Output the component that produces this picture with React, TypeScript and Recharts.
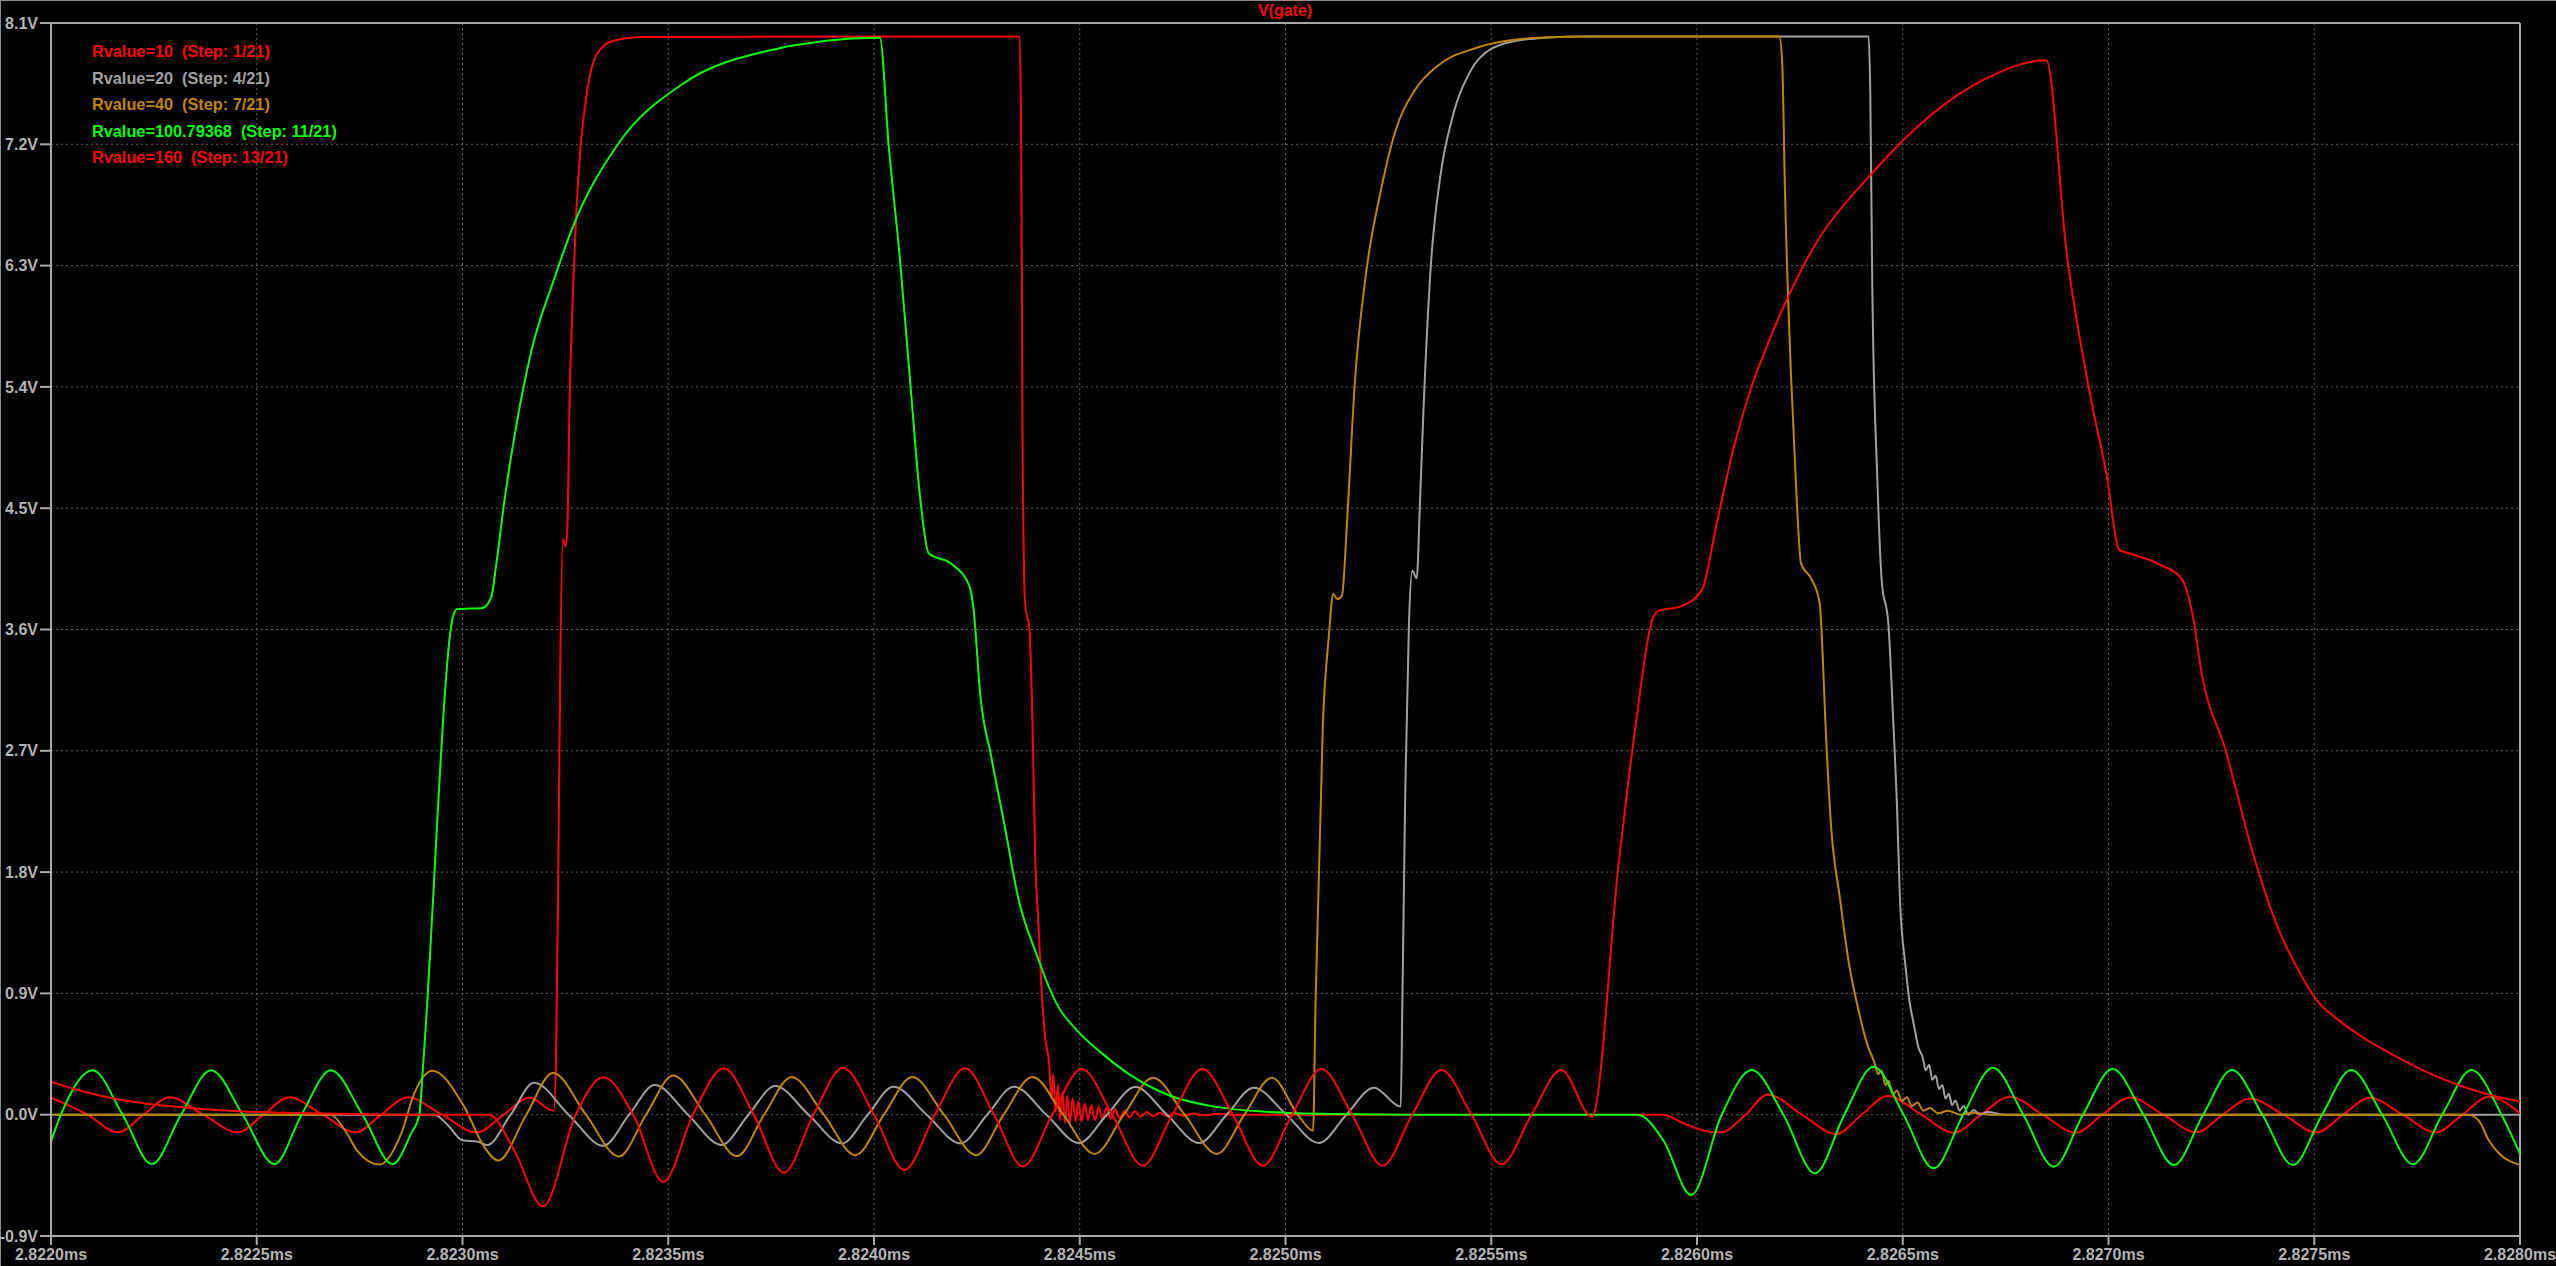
import { LineChart, Line, XAxis, YAxis, CartesianGrid, ReferenceLine } from 'recharts';

// time in microseconds (axis shows ms), voltage in volts
const timeTicks = [2822, 2822.5, 2823, 2823.5, 2824, 2824.5, 2825, 2825.5, 2826, 2826.5, 2827, 2827.5, 2828];
const voltTicks = [-0.9, 0, 0.9, 1.8, 2.7, 3.6, 4.5, 5.4, 6.3, 7.2, 8.1];

const stepLabels = [
  'Rvalue=10  (Step: 1/21)',
  'Rvalue=20  (Step: 4/21)',
  'Rvalue=40  (Step: 7/21)',
  'Rvalue=100.79368  (Step: 11/21)',
  'Rvalue=160  (Step: 13/21)',
];
const stepColors = ['#ff0000', '#a0a0a0', '#c08400', '#00ff00', '#ff0000'];

const r10 = [
  [2822.0, 0.126], [2822.089, 0], [2822.162, -0.131], [2822.225, 0], [2822.288, 0.129], [2822.37, 0],
  [2822.454, -0.131], [2822.516, 0], [2822.579, 0.129], [2822.66, 0], [2822.741, -0.131], [2822.802, 0],
  [2822.867, 0.129], [2822.95, 0], [2823.035, -0.131], [2823.1, 0], [2823.163, 0.126], [2823.222, 0.03],
  [2823.228, 0.573], [2823.233, 1.874], [2823.238, 3.436], [2823.244, 4.27], [2823.251, 4.217], [2823.255, 4.373],
  [2823.26, 5.258], [2823.269, 6.143], [2823.276, 6.663], [2823.287, 7.184], [2823.303, 7.6], [2823.325, 7.861],
  [2823.363, 7.965], [2823.439, 7.996], [2824.354, 8.0], [2824.358, 7.08], [2824.361, 5.0], [2824.367, 3.8],
  [2824.378, 3.59], [2824.385, 2.915], [2824.392, 1.874], [2824.399, 1.458], [2824.407, 0.937], [2824.416, 0.573],
  [2824.426, 0.365], [2824.431, 0.12], [2824.436, 0.3], [2824.441, 0.02], [2824.447, 0.22], [2824.452, -0.04],
  [2824.458, 0.17], [2824.464, -0.06], [2824.47, 0.14], [2824.476, -0.06], [2824.483, 0.12], [2824.49, -0.05],
  [2824.497, 0.1], [2824.504, -0.05], [2824.512, 0.08], [2824.52, -0.04], [2824.528, 0.07], [2824.537, -0.04],
  [2824.546, 0.06], [2824.555, -0.035], [2824.565, 0.05], [2824.575, -0.03], [2824.586, 0.04], [2824.597, -0.025],
  [2824.609, 0.03], [2824.621, -0.02], [2824.634, 0.025], [2824.648, -0.015], [2824.663, 0.02], [2824.678, -0.012],
  [2824.695, 0.015], [2824.712, -0.01], [2824.73, 0.012], [2824.75, -0.008], [2824.775, 0.008], [2824.8, -0.005],
  [2824.83, 0.005], [2824.87, 0], [2825.918, 0], [2825.968, -0.065], [2826.042, -0.13], [2826.059, -0.13],
  [2826.118, 0], [2826.172, 0.15], [2826.255, 0], [2826.339, -0.143], [2826.4, 0], [2826.464, 0.138],
  [2826.545, 0], [2826.625, -0.133], [2826.69, 0], [2826.76, 0.134], [2826.84, 0], [2826.921, -0.133],
  [2826.985, 0], [2827.052, 0.128], [2827.133, 0], [2827.214, -0.131], [2827.278, 0], [2827.343, 0.121],
  [2827.425, 0], [2827.506, -0.131], [2827.57, 0], [2827.635, 0.126], [2827.715, 0], [2827.796, -0.131],
  [2827.86, 0], [2827.924, 0.134], [2828.0, 0.01],
];

const r20 = [
  [2822.0, 0], [2822.932, 0], [2822.965, -0.08], [2823.0, -0.19], [2823.038, -0.2], [2823.06, -0.225],
  [2823.117, 0], [2823.174, 0.237], [2823.258, 0], [2823.342, -0.23], [2823.405, 0], [2823.467, 0.22],
  [2823.548, 0], [2823.629, -0.224], [2823.695, 0], [2823.76, 0.213], [2823.841, 0], [2823.922, -0.213],
  [2823.985, 0], [2824.047, 0.208], [2824.128, 0], [2824.21, -0.213], [2824.275, 0], [2824.34, 0.208],
  [2824.419, 0], [2824.498, -0.21], [2824.566, 0], [2824.635, 0.205], [2824.712, 0], [2824.79, -0.21],
  [2824.857, 0], [2824.923, 0.2], [2825.002, 0], [2825.081, -0.21], [2825.148, 0], [2825.215, 0.2],
  [2825.28, 0.06], [2825.284, 0.833], [2825.291, 2.395], [2825.3, 3.644], [2825.308, 4.035], [2825.319, 3.98],
  [2825.326, 4.477], [2825.335, 5.206], [2825.352, 6.247], [2825.377, 6.976], [2825.405, 7.392], [2825.447, 7.73],
  [2825.503, 7.913], [2825.587, 7.98], [2825.7, 8.0], [2826.417, 8.0], [2826.421, 7.6], [2826.426, 6.143],
  [2826.438, 4.737], [2826.449, 3.957], [2826.465, 3.644], [2826.477, 2.915], [2826.486, 2.29], [2826.493, 1.614],
  [2826.507, 1.094], [2826.516, 0.85], [2826.528, 0.653], [2826.538, 0.5], [2826.548, 0.43], [2826.556, 0.33],
  [2826.564, 0.37], [2826.572, 0.26], [2826.58, 0.29], [2826.588, 0.19], [2826.596, 0.22], [2826.604, 0.12],
  [2826.612, 0.155], [2826.62, 0.07], [2826.628, 0.105], [2826.638, 0.03], [2826.648, 0.065], [2826.66, 0.0],
  [2826.672, 0.035], [2826.689, 0.0], [2826.705, 0.02], [2826.75, 0], [2828.0, 0],
];

const r40 = [
  [2822.0, 0], [2822.68, 0], [2822.713, -0.11], [2822.745, -0.27], [2822.798, -0.37], [2822.851, -0.14],
  [2822.883, 0.16], [2822.927, 0.326], [2823.004, 0.06], [2823.053, -0.24], [2823.087, -0.34], [2823.155, 0],
  [2823.22, 0.31], [2823.3, 0], [2823.38, -0.31], [2823.446, 0], [2823.512, 0.29], [2823.59, 0],
  [2823.667, -0.307], [2823.733, 0], [2823.8, 0.28], [2823.878, 0], [2823.955, -0.3], [2824.024, 0],
  [2824.093, 0.28], [2824.17, 0], [2824.248, -0.3], [2824.315, 0], [2824.385, 0.28], [2824.46, 0],
  [2824.536, -0.291], [2824.607, 0], [2824.678, 0.275], [2824.755, 0], [2824.833, -0.291], [2824.9, 0],
  [2824.967, 0.275], [2825.03, 0], [2825.067, -0.12], [2825.073, 0.833], [2825.091, 2.915], [2825.105, 3.54],
  [2825.116, 3.863], [2825.126, 3.826], [2825.137, 3.85], [2825.151, 4.477], [2825.168, 5.41], [2825.196, 6.247],
  [2825.231, 6.846], [2825.266, 7.288], [2825.314, 7.6], [2825.37, 7.783], [2825.461, 7.913], [2825.614, 7.99],
  [2825.75, 8.0], [2826.2, 8.0], [2826.207, 7.81], [2826.214, 6.82], [2826.228, 5.52], [2826.242, 4.58],
  [2826.253, 4.087], [2826.277, 3.98], [2826.298, 3.8], [2826.305, 3.436], [2826.312, 2.915], [2826.326, 2.135],
  [2826.347, 1.614], [2826.368, 1.146], [2826.396, 0.729], [2826.414, 0.52], [2826.432, 0.38], [2826.44, 0.3],
  [2826.448, 0.33], [2826.458, 0.22], [2826.466, 0.25], [2826.476, 0.15], [2826.486, 0.18], [2826.498, 0.1],
  [2826.51, 0.13], [2826.522, 0.065], [2826.536, 0.09], [2826.55, 0.03], [2826.566, 0.05], [2826.586, 0.01],
  [2826.61, 0.03], [2826.64, 0.0], [2826.67, 0.015], [2826.715, 0], [2827.873, 0], [2827.899, -0.04],
  [2827.924, -0.19], [2827.95, -0.29], [2828.0, -0.373],
];

const r100 = [
  [2822.0, -0.2], [2822.024, 0], [2822.101, 0.33], [2822.174, 0], [2822.245, -0.366], [2822.316, 0],
  [2822.389, 0.33], [2822.466, 0], [2822.543, -0.366], [2822.609, 0], [2822.68, 0.33], [2822.757, 0],
  [2822.83, -0.366], [2822.875, -0.14], [2822.895, 0], [2822.905, 0.4], [2822.978, 3.707], [2822.986, 3.75],
  [2823.049, 3.76], [2823.07, 3.84], [2823.081, 4.06], [2823.103, 4.58], [2823.13, 5.1], [2823.168, 5.674],
  [2823.222, 6.195], [2823.271, 6.61], [2823.374, 7.184], [2823.537, 7.652], [2823.732, 7.887], [2824.014, 7.99],
  [2824.036, 7.18], [2824.063, 6.35], [2824.09, 5.36], [2824.112, 4.58], [2824.133, 4.165], [2824.188, 4.087],
  [2824.231, 3.93], [2824.242, 3.75], [2824.258, 3.12], [2824.285, 2.655], [2824.318, 2.135], [2824.35, 1.614],
  [2824.394, 1.198], [2824.448, 0.8], [2824.492, 0.63], [2824.554, 0.455], [2824.629, 0.282], [2824.715, 0.146],
  [2824.827, 0.06], [2824.951, 0.022], [2825.112, 0.005], [2825.3, 0], [2825.856, 0], [2825.918, -0.19],
  [2825.986, -0.595], [2826.06, 0], [2826.133, 0.331], [2826.21, 0], [2826.287, -0.435], [2826.358, 0],
  [2826.429, 0.356], [2826.502, 0], [2826.575, -0.398], [2826.647, 0], [2826.719, 0.349], [2826.793, 0],
  [2826.867, -0.386], [2826.938, 0], [2827.01, 0.339], [2827.085, 0], [2827.159, -0.373], [2827.23, 0],
  [2827.3, 0.331], [2827.374, 0], [2827.448, -0.373], [2827.519, 0], [2827.59, 0.331], [2827.665, 0],
  [2827.74, -0.368], [2827.811, 0], [2827.882, 0.331], [2827.955, 0], [2828.0, -0.29],
];

const r160 = [
  [2822.0, 0.245], [2822.081, 0.17], [2822.162, 0.114], [2822.243, 0.077], [2822.324, 0.054], [2822.446, 0.027],
  [2822.567, 0.015], [2822.729, 0.005], [2822.9, 0], [2823.065, 0], [2823.125, -0.26], [2823.196, -0.68],
  [2823.275, 0], [2823.342, 0.277], [2823.415, 0], [2823.488, -0.497], [2823.56, 0], [2823.635, 0.344],
  [2823.708, 0], [2823.781, -0.43], [2823.853, 0], [2823.925, 0.349], [2824.0, 0], [2824.074, -0.41],
  [2824.148, 0], [2824.221, 0.344], [2824.292, 0], [2824.362, -0.385], [2824.433, 0], [2824.505, 0.339],
  [2824.579, 0], [2824.653, -0.378], [2824.725, 0], [2824.798, 0.339], [2824.872, 0], [2824.945, -0.378],
  [2825.016, 0], [2825.087, 0.339], [2825.162, 0], [2825.236, -0.378], [2825.308, 0], [2825.379, 0.331],
  [2825.452, 0], [2825.525, -0.368], [2825.598, 0], [2825.67, 0.331], [2825.745, -0.015], [2825.81, 1.874],
  [2825.852, 2.915], [2825.891, 3.67], [2825.907, 3.738], [2825.963, 3.774], [2826.012, 3.894], [2826.047, 4.373],
  [2826.089, 4.946], [2826.131, 5.388], [2826.18, 5.778], [2826.263, 6.325], [2826.438, 7.028], [2826.696, 7.678],
  [2826.849, 7.824], [2826.898, 6.403], [2826.954, 5.362], [2826.996, 4.737], [2827.026, 4.191], [2827.051, 4.165],
  [2827.121, 4.087], [2827.177, 3.98], [2827.205, 3.7], [2827.225, 3.3], [2827.285, 2.7], [2827.35, 1.95],
  [2827.41, 1.4], [2827.46, 1.08], [2827.506, 0.85], [2827.56, 0.7], [2827.615, 0.58], [2827.706, 0.42],
  [2827.808, 0.27], [2827.911, 0.16], [2828.0, 0.097],
];

const series = [r10, r20, r40, r100, r160];

const axisGray = '#a8a8a8';
const labelGray = '#b4b4b4';
const font = '"Liberation Sans", Arial, sans-serif';

export default function App() {
  const lines = series.map(pts => pts.map(([t, v]) => ({ t, v })));

  return (
    <div
      style={{
        position: 'fixed',
        left: 0,
        top: 0,
        width: 2556,
        height: 1266,
        background: '#000',
        boxShadow: 'inset 1px 1px 0 #8c8c8c',
        fontFamily: font,
        fontWeight: 'bold',
      }}
    >
      <LineChart
        width={2556}
        height={1266}
        margin={{ top: 23, right: 36, bottom: 0, left: 0 }}
        style={{ overflow: 'visible' }}
      >
        <CartesianGrid stroke="#606060" strokeDasharray="2 3" />
        <XAxis
          dataKey="t"
          type="number"
          domain={[2822, 2828]}
          ticks={timeTicks}
          interval={0}
          allowDataOverflow
          height={30}
          tickSize={9}
          tickMargin={4}
          axisLine={{ stroke: axisGray, strokeWidth: 2 }}
          tickLine={{ stroke: axisGray, strokeWidth: 2 }}
          tick={{ fill: labelGray, fontSize: 16, fontWeight: 'bold', fontFamily: font }}
          tickFormatter={(t: number) => `${(t / 1000).toFixed(4)}ms`}
        />
        <YAxis
          type="number"
          domain={[-0.9, 8.1]}
          ticks={voltTicks}
          interval={0}
          allowDataOverflow
          width={51}
          tickSize={11}
          tickMargin={2}
          axisLine={{ stroke: axisGray, strokeWidth: 2 }}
          tickLine={{ stroke: axisGray, strokeWidth: 2 }}
          tick={{ fill: labelGray, fontSize: 16, fontWeight: 'bold', fontFamily: font }}
          tickFormatter={(v: number) => `${v.toFixed(1)}V`}
        />
        <ReferenceLine y={8.1} stroke={axisGray} strokeWidth={2} />
        <ReferenceLine x={2828} stroke={axisGray} strokeWidth={2} />
        {lines.map((d, i) => (
          <Line
            key={stepLabels[i]}
            data={d}
            dataKey="v"
            type="monotone"
            stroke={stepColors[i]}
            strokeWidth={2}
            dot={false}
            activeDot={false}
            isAnimationActive={false}
          />
        ))}
      </LineChart>

      <div
        style={{
          position: 'absolute',
          left: 1285,
          top: 2,
          transform: 'translateX(-50%)',
          color: '#ff0000',
          fontSize: 16,
          lineHeight: '18px',
        }}
      >
        V(gate)
      </div>

      <div style={{ position: 'absolute', left: 92, top: 38, fontSize: 16.3, lineHeight: '26.6px' }}>
        {stepLabels.map((label, i) => (
          <div key={label} style={{ color: stepColors[i], whiteSpace: 'pre' }}>
            {label}
          </div>
        ))}
      </div>
    </div>
  );
}
